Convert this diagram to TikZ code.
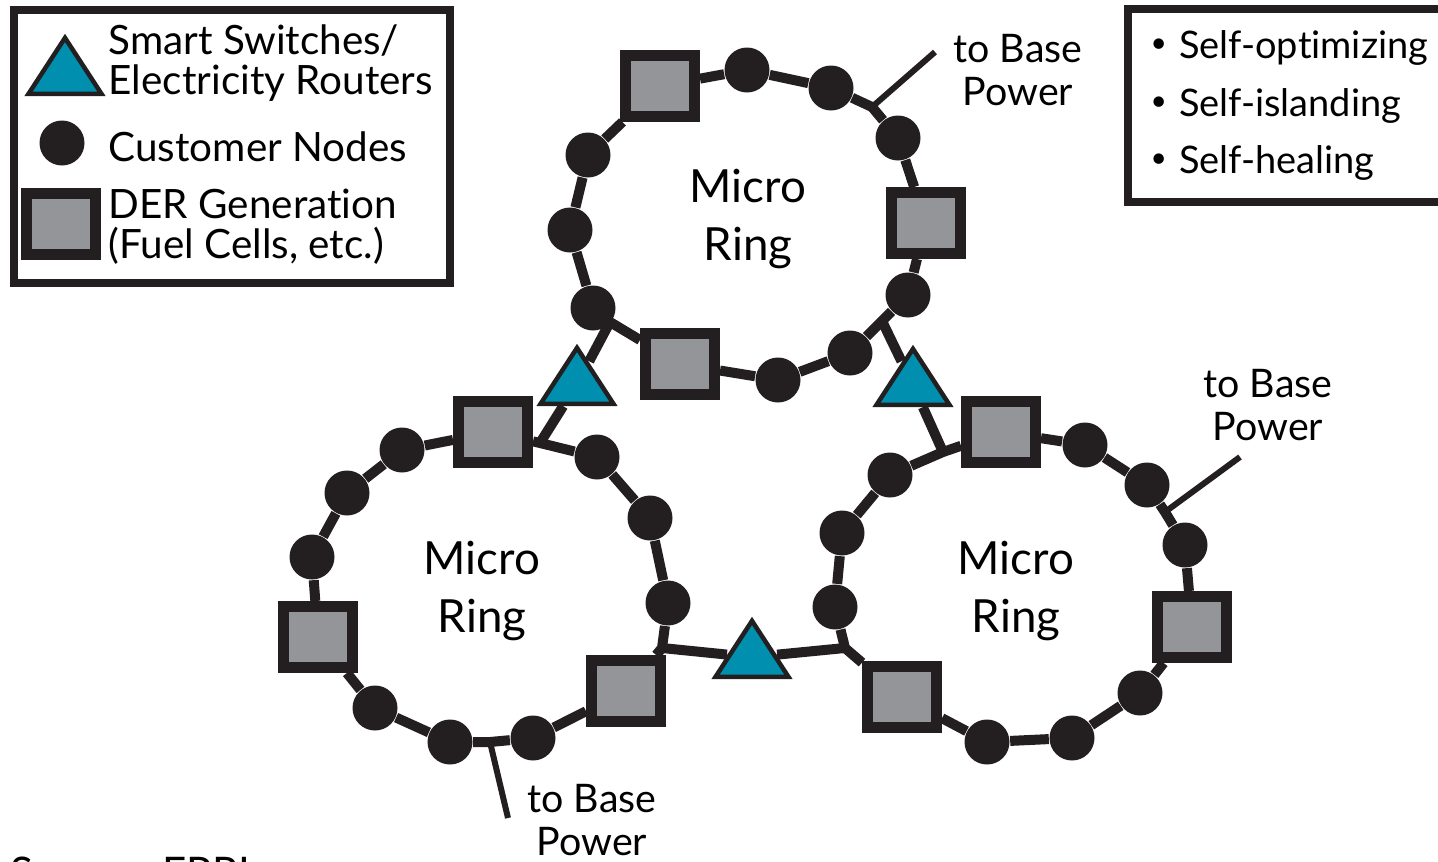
\documentclass[tikz,border=0pt]{standalone}
\usepackage{fontspec}
\setmainfont{Lato}[Ligatures=NoCommon]
\usepackage{xcolor}
\usetikzlibrary{shapes.geometric,backgrounds}

\definecolor{ink}{HTML}{231F20}
\definecolor{dergray}{HTML}{939598}
\definecolor{switchblue}{HTML}{008FAE}

\newcommand{\smallbullet}{\raisebox{0.3ex}{\fontsize{8}{8}\selectfont\textbullet}\hspace{1.2mm}}

\tikzset{
  customer/.style={circle,fill=ink,minimum size=4.5mm,inner sep=0pt},
  der/.style={rectangle,draw=ink,line width=1.1mm,fill=dergray,minimum width=6.9mm,minimum height=6.1mm,inner sep=0pt},
  switch/.style={isosceles triangle,isosceles triangle stretches,shape border rotate=90,draw=ink,line width=0.45mm,fill=switchblue,minimum width=7.3mm,minimum height=5.6mm,inner sep=0pt,anchor=apex},
  ring/.style={draw=ink,line width=1mm,line join=round},
  tap/.style={draw=ink,line width=0.6mm},
  keybox/.style={draw=ink,line width=0.8mm},
  keytext/.style={align=left,anchor=west,inner sep=0pt,font=\fontsize{11.5}{11.4}\selectfont},
  bullettext/.style={anchor=west,inner sep=0pt,font=\fontsize{10.8}{13}\selectfont},
  powertext/.style={align=center,inner sep=0pt,font=\fontsize{11.2}{12.2}\selectfont},
  ringlabel/.style={align=center,inner sep=0pt,font=\fontsize{13}{16.5}\selectfont},
}

\begin{document}
\begin{tikzpicture}[x=0.1mm,y=-0.1mm]
\useasboundingbox (0,0) rectangle (1438,862);
\clip (0,0) rectangle (1438,862);

% legend
\draw[keybox] (14,10) rectangle (450,283);
\node[switch] (keyswitch) at (65,32) {};
\node[customer] (keycustomer) at (62,143) {};
\node[der] (keyder) at (61,224) {};
\node[keytext] (keyswitchtext) at (108,63) {Smart Switches/\\Electricity Routers};
\node[keytext] (keycustomertext) at (108,147) {Customer Nodes};
\node[keytext] (keydertext) at (108,227) {DER Generation\\(Fuel Cells, etc.)};

\draw[keybox] (1128,9) rectangle (1460,202);
\node[bullettext] (optimizing) at (1150,48) {\smallbullet Self-optimizing};
\node[bullettext] (islanding) at (1150,106) {\smallbullet Self-islanding};
\node[bullettext] (healing) at (1150,163) {\smallbullet Self-healing};

\node[anchor=north west,inner sep=0pt,font=\fontsize{12}{12}\selectfont] (source) at (10,856) {Source: EPRI};

% top ring
\node[der] (tder1) at (660,86) {};
\node[customer] (tcus1) at (747,70) {};
\node[customer] (tcus2) at (831,88) {};
\coordinate (ttap) at (872,107);
\node[customer] (tcus3) at (898,138) {};
\node[der] (tder2) at (926,223) {};
\node[customer] (tcus4) at (908,295) {};
\coordinate (tright) at (882,321);
\node[customer] (tcus5) at (850,353) {};
\node[customer] (tcus6) at (778,380) {};
\node[der] (tder3) at (680,364) {};
\coordinate (tleft) at (610,322);
\node[customer] (tcus7) at (593,308) {};
\node[customer] (tcus8) at (570,230) {};
\node[customer] (tcus9) at (588,155) {};

% left ring
\node[der] (lder1) at (493,432) {};
\coordinate (ltop) at (540,443);
\node[customer] (lcus1) at (597,457) {};
\node[customer] (lcus2) at (650,518) {};
\node[customer] (lcus3) at (668,603) {};
\coordinate (lright) at (662,648);
\node[der] (lder2) at (626,691) {};
\node[customer] (lcus4) at (533,738) {};
\coordinate (lbottom) at (490,742);
\node[customer] (lcus5) at (450,742) {};
\node[customer] (lcus6) at (375,708) {};
\node[der] (lder3) at (318,637) {};
\node[customer] (lcus7) at (312,557) {};
\node[customer] (lcus8) at (347,493) {};
\node[customer] (lcus9) at (402,450) {};

% right ring
\node[der] (rder1) at (1001,432) {};
\node[customer] (rcus1) at (1085,445) {};
\node[customer] (rcus2) at (1147,485) {};
\coordinate (rtap) at (1165,512);
\node[customer] (rcus3) at (1185,545) {};
\node[der] (rder2) at (1192,627) {};
\node[customer] (rcus4) at (1140,693) {};
\node[customer] (rcus5) at (1072,738) {};
\node[customer] (rcus6) at (987,742) {};
\node[der] (rder3) at (902,697) {};
\coordinate (rleft) at (845,648);
\node[customer] (rcus7) at (835,607) {};
\node[customer] (rcus8) at (842,533) {};
\node[customer] (rcus9) at (890,475) {};
\coordinate (rtop) at (943,452);

% switches
\node[switch] (sleft) at (577,342) {};
\node[switch] (sright) at (913,343) {};
\node[switch] (sbottom) at (752,615) {};

\coordinate (ttapend) at (935,52);
\coordinate (rtapend) at (1240,457);
\coordinate (lbottomend) at (508,818);

\begin{scope}[on background layer]
\draw[ring] (tder1) -- (tcus1) -- (tcus2) -- (ttap) -- (tcus3) -- (tder2) -- (tcus4) -- (tright) -- (tcus5) -- (tcus6) -- (tder3) -- (tleft) -- (tcus7) -- (tcus8) -- (tcus9) -- (tder1);
\draw[ring] (lder1) -- (ltop) -- (lcus1) -- (lcus2) -- (lcus3) -- (lright) -- (lder2) -- (lcus4) -- (lbottom) -- (lcus5) -- (lcus6) -- (lder3) -- (lcus7) -- (lcus8) -- (lcus9) -- (lder1);
\draw[ring] (rder1) -- (rcus1) -- (rcus2) -- (rtap) -- (rcus3) -- (rder2) -- (rcus4) -- (rcus5) -- (rcus6) -- (rder3) -- (rleft) -- (rcus7) -- (rcus8) -- (rcus9) -- (rtop) -- (rder1);
\draw[ring] (tleft) -- (sleft) -- (ltop);
\draw[ring] (tright) -- (sright) -- (rtop);
\draw[ring] (lright) -- (sbottom) -- (rleft);
\draw[tap] (ttap) -- (ttapend);
\draw[tap] (rtap) -- (rtapend);
\draw[tap] (lbottom) -- (lbottomend);
\end{scope}

\node[powertext] (toppower) at (1018,70) {to Base\\Power};
\node[powertext] (rightpower) at (1268,405) {to Base\\Power};
\node[powertext] (bottompower) at (592,820) {to Base\\Power};

\node[ringlabel] (toplabel) at (748,219) {Micro\\Ring};
\node[ringlabel] (leftlabel) at (482,591) {Micro\\Ring};
\node[ringlabel] (rightlabel) at (1016,591) {Micro\\Ring};
\end{tikzpicture}
\end{document}
